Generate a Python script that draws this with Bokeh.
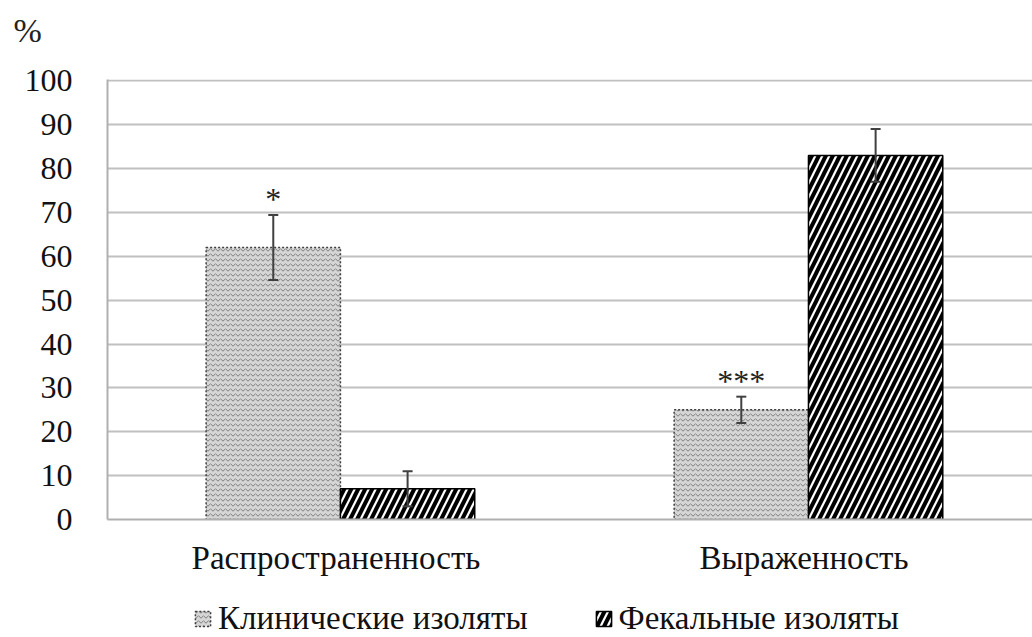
from bokeh.plotting import figure
from bokeh.layouts import column
from bokeh.models import (ColumnDataSource, FactorRange, Whisker, Legend, LegendItem,
                          FixedTicker, TeeHead)
from bokeh.transform import dodge
from bokeh.core.properties import value
from bokeh.embed import file_html
from bokeh.resources import INLINE

categories = ["Распространенность", "Выраженность"]
series_names = ["Клинические изоляты", "Фекальные изоляты"]
clinical = [62, 25]
clinical_err = [7.4, 3.0]
fecal = [7, 83]
fecal_err = [4.0, 6.0]
stars = ["*", "***"]
y_ticks = list(range(0, 101, 10))
y_unit = "%"

FONT = "Liberation Serif"
CLIN_STYLE = dict(fill_color="#d6d6d6", hatch_pattern="horizontal_wave", hatch_color="#7c7c7c",
                  hatch_scale=5, hatch_weight=1, line_color="#404040", line_width=1.5,
                  line_dash="2 2")
FEC_STYLE = dict(fill_color="white", hatch_pattern="right_diagonal_line", hatch_color="black",
                 hatch_scale=14, hatch_weight=4, line_color="black", line_width=1.5)

src = ColumnDataSource(dict(
    cat=categories,
    clin=clinical,
    clin_lo=[v - e for v, e in zip(clinical, clinical_err)],
    clin_hi=[v + e for v, e in zip(clinical, clinical_err)],
    fec=fecal,
    fec_lo=[v - e for v, e in zip(fecal, fecal_err)],
    fec_hi=[v + e for v, e in zip(fecal, fecal_err)],
    star=stars,
))

xr = FactorRange(factors=categories, range_padding=-0.0118, range_padding_units="absolute")

# top strip holding the "%" unit caption
top = figure(width=1032, height=62, x_range=xr, y_range=(0, 1),
             output_backend="svg", toolbar_location=None,
             x_axis_type=None, y_axis_type=None, title=y_unit,
             min_border_left=107, min_border_right=0, min_border_top=0, min_border_bottom=0)
top.grid.grid_line_color = None
top.outline_line_color = None
top.title.text_font = FONT
top.title.text_font_size = "34px"
top.title.text_font_style = "normal"
top.title.text_color = "#222222"
top.title.align = "left"
top.title.offset = -94
top.title.standoff = 19

p = figure(x_range=xr, y_range=(0, 100.3), width=1032, height=525,
           output_backend="svg", toolbar_location=None,
           min_border_left=107, min_border_right=0, min_border_top=17,
           min_border_bottom=68)

bw = 0.287
shift = 0.0095
off = 0.1435
r1 = p.vbar(x=dodge("cat", -off + shift, range=xr), top="clin", width=bw,
            source=src, **CLIN_STYLE)
r2 = p.vbar(x=dodge("cat", off + shift, range=xr), top="fec", width=bw,
            source=src, **FEC_STYLE)

for base, lo, hi in ((-off + shift, "clin_lo", "clin_hi"), (off + shift, "fec_lo", "fec_hi")):
    w = Whisker(base=dodge("cat", base, range=xr), lower=lo, upper=hi, source=src,
                line_color="#404040", line_width=2, level="overlay",
                upper_head=TeeHead(size=10, line_color="#404040", line_width=2),
                lower_head=TeeHead(size=10, line_color="#404040", line_width=2))
    p.add_layout(w)

p.text(x=dodge("cat", -off + shift, range=xr), y="clin_hi", text="star", source=src,
       text_align="center", text_baseline="bottom", y_offset=2,
       text_font=value(FONT), text_font_size="32px", text_color="#222222")

p.xgrid.grid_line_color = None
p.ygrid.grid_line_color = "#c0c0c0"
p.ygrid.grid_line_width = 2
p.yaxis.ticker = FixedTicker(ticks=y_ticks)
for ax in (p.xaxis[0], p.yaxis[0]):
    ax.axis_line_color = "#b0b0b0"
    ax.axis_line_width = 2
    ax.major_tick_line_color = None
    ax.minor_tick_line_color = None
    ax.major_label_text_font = FONT
    ax.major_label_text_color = "#111111"
p.yaxis.major_label_text_font_size = "32px"
p.xaxis.major_label_text_font_size = "33px"
p.yaxis.major_label_standoff = 29
p.xaxis.major_label_standoff = 14
p.outline_line_color = None

# legend strip below the chart: same bar styles on hidden renderers,
# so only the legend swatches show
lg = figure(width=1032, height=50, x_range=xr, y_range=(1000, 1001),
            output_backend="svg", toolbar_location=None,
            x_axis_type=None, y_axis_type=None,
            min_border_left=107, min_border_right=0, min_border_top=0, min_border_bottom=0)
lg.grid.grid_line_color = None
lg.outline_line_color = None
l1 = lg.vbar(x=dodge("cat", -off + shift, range=xr), top="clin", width=bw,
             source=src, visible=False, **CLIN_STYLE)
l2 = lg.vbar(x=dodge("cat", off + shift, range=xr), top="fec", width=bw,
             source=src, visible=False, **FEC_STYLE)
legend = Legend(items=[LegendItem(label=series_names[0], renderers=[l1]),
                       LegendItem(label=series_names[1], renderers=[l2])],
                orientation="horizontal", location=(86, 0),
                label_text_font=FONT, label_text_font_size="33px",
                label_text_color="#111111",
                glyph_width=19, glyph_height=19, spacing=66, label_standoff=6,
                inactive_fill_alpha=0,
                border_line_color=None, background_fill_alpha=0, margin=0, padding=4)
lg.add_layout(legend)

layout = column(top, p, lg, spacing=0)
open("out.html", "w").write(file_html(layout, INLINE))
